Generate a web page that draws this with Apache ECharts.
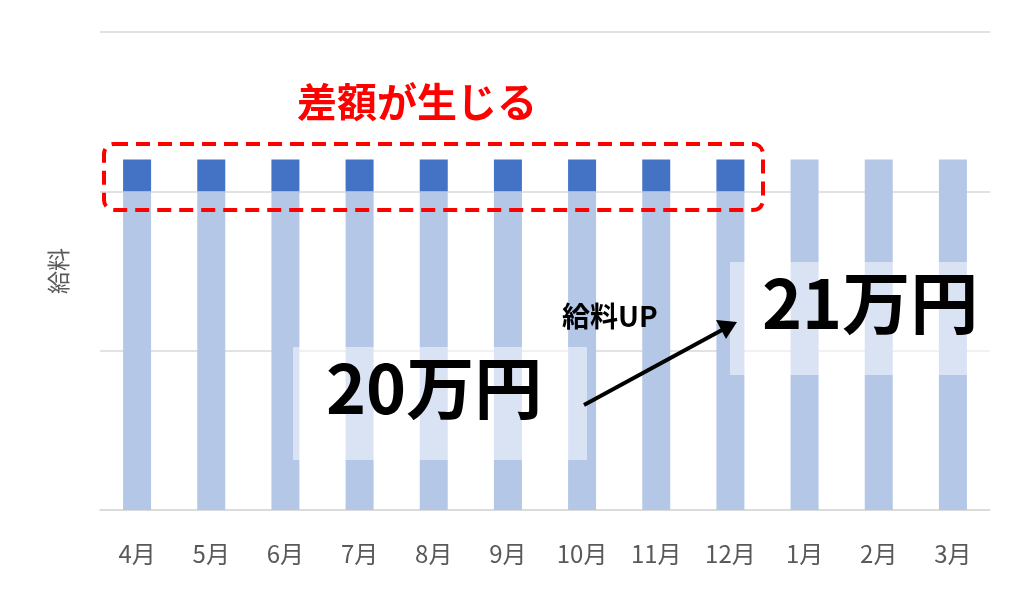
<!DOCTYPE html>
<html>
<head>
<meta charset="utf-8">
<script src="https://cdn.jsdelivr.net/npm/echarts@6/dist/echarts.min.js"></script>
<style>
  html, body { margin: 0; padding: 0; background: #fff; }
  #chart { width: 1024px; height: 613px; }
</style>
</head>
<body>
<div id="chart"></div>
<script>
// データ
var months = ['4月', '5月', '6月', '7月', '8月', '9月', '10月', '11月', '12月', '1月', '2月', '3月'];
var baseSalary = [20, 20, 20, 20, 20, 20, 20, 20, 20, 22, 22, 22];
var diffSalary = [2, 2, 2, 2, 2, 2, 2, 2, 2, 0, 0, 0];
var yTicks = [0, 10, 20, 30];

var FONT = '"Noto Sans CJK JP", "Noto Sans", sans-serif';
var myChart = echarts.init(document.getElementById('chart'));

var option = {
    animation: false,
    textStyle: { fontFamily: FONT },
    grid: { left: 100, right: 34, top: 32, bottom: 103 },
    xAxis: {
        type: 'category',
        data: months,
        axisTick: { show: false },
        axisLine: { lineStyle: { color: '#d9d9d9', width: 1.5 } },
        axisLabel: { color: '#595959', fontSize: 24, margin: 32, fontFamily: FONT }
    },
    yAxis: {
        type: 'value',
        min: yTicks[0],
        max: yTicks[yTicks.length - 1],
        interval: 10,
        name: '給料',
        nameLocation: 'middle',
        nameGap: 30,
        nameRotate: 90,
        nameTextStyle: { color: '#595959', fontSize: 23, fontFamily: FONT },
        axisLabel: { show: false },
        axisLine: { show: false },
        axisTick: { show: false },
        splitLine: { lineStyle: { color: '#d9d9d9', width: 1.5 } }
    },
    series: [
        {
            type: 'bar', stack: 's', barWidth: 28,
            data: baseSalary,
            itemStyle: { color: '#b4c7e7' }
        },
        {
            type: 'bar', stack: 's', barWidth: 28,
            data: diffSalary,
            itemStyle: { color: '#4472c4' }
        }
    ],
    graphic: [
        // 半透明の背景
        { type: 'rect', shape: { x: 293, y: 347, width: 294, height: 113 }, style: { fill: 'rgba(255,255,255,0.5)' }, z: 100 },
        { type: 'rect', shape: { x: 730, y: 262, width: 260, height: 113 }, style: { fill: 'rgba(255,255,255,0.5)' }, z: 100 },
        // 差額の枠
        { type: 'rect', shape: { x: 104, y: 144, width: 659, height: 66, r: 10 },
          style: { fill: 'none', stroke: '#ff0000', lineWidth: 4, lineDash: [14, 8] }, z: 101 },
        { type: 'text', left: 297, top: 82,
          style: { text: '差額が生じる', fill: '#ff0000', font: 'bold 40px ' + FONT }, z: 101 },
        { type: 'text', left: 326, top: 354,
          style: { text: '20万円', fill: '#000', font: 'bold 68px ' + FONT }, z: 101 },
        { type: 'text', left: 762, top: 269,
          style: { text: '21万円', fill: '#000', font: 'bold 68px ' + FONT }, z: 101 },
        { type: 'text', left: 562, top: 302,
          style: { text: '給料UP', fill: '#000', font: 'bold 28px ' + FONT }, z: 101 },
        // 矢印
        { type: 'line', shape: { x1: 584, y1: 405, x2: 722, y2: 330 },
          style: { stroke: '#000', lineWidth: 4 }, z: 101 },
        { type: 'polygon', shape: { points: [[737, 322], [716, 320], [726, 339]] },
          style: { fill: '#000' }, z: 101 }
    ]
};

myChart.setOption(option);
window.addEventListener('resize', function () {
    myChart.resize();
});
</script>
</body>
</html>
